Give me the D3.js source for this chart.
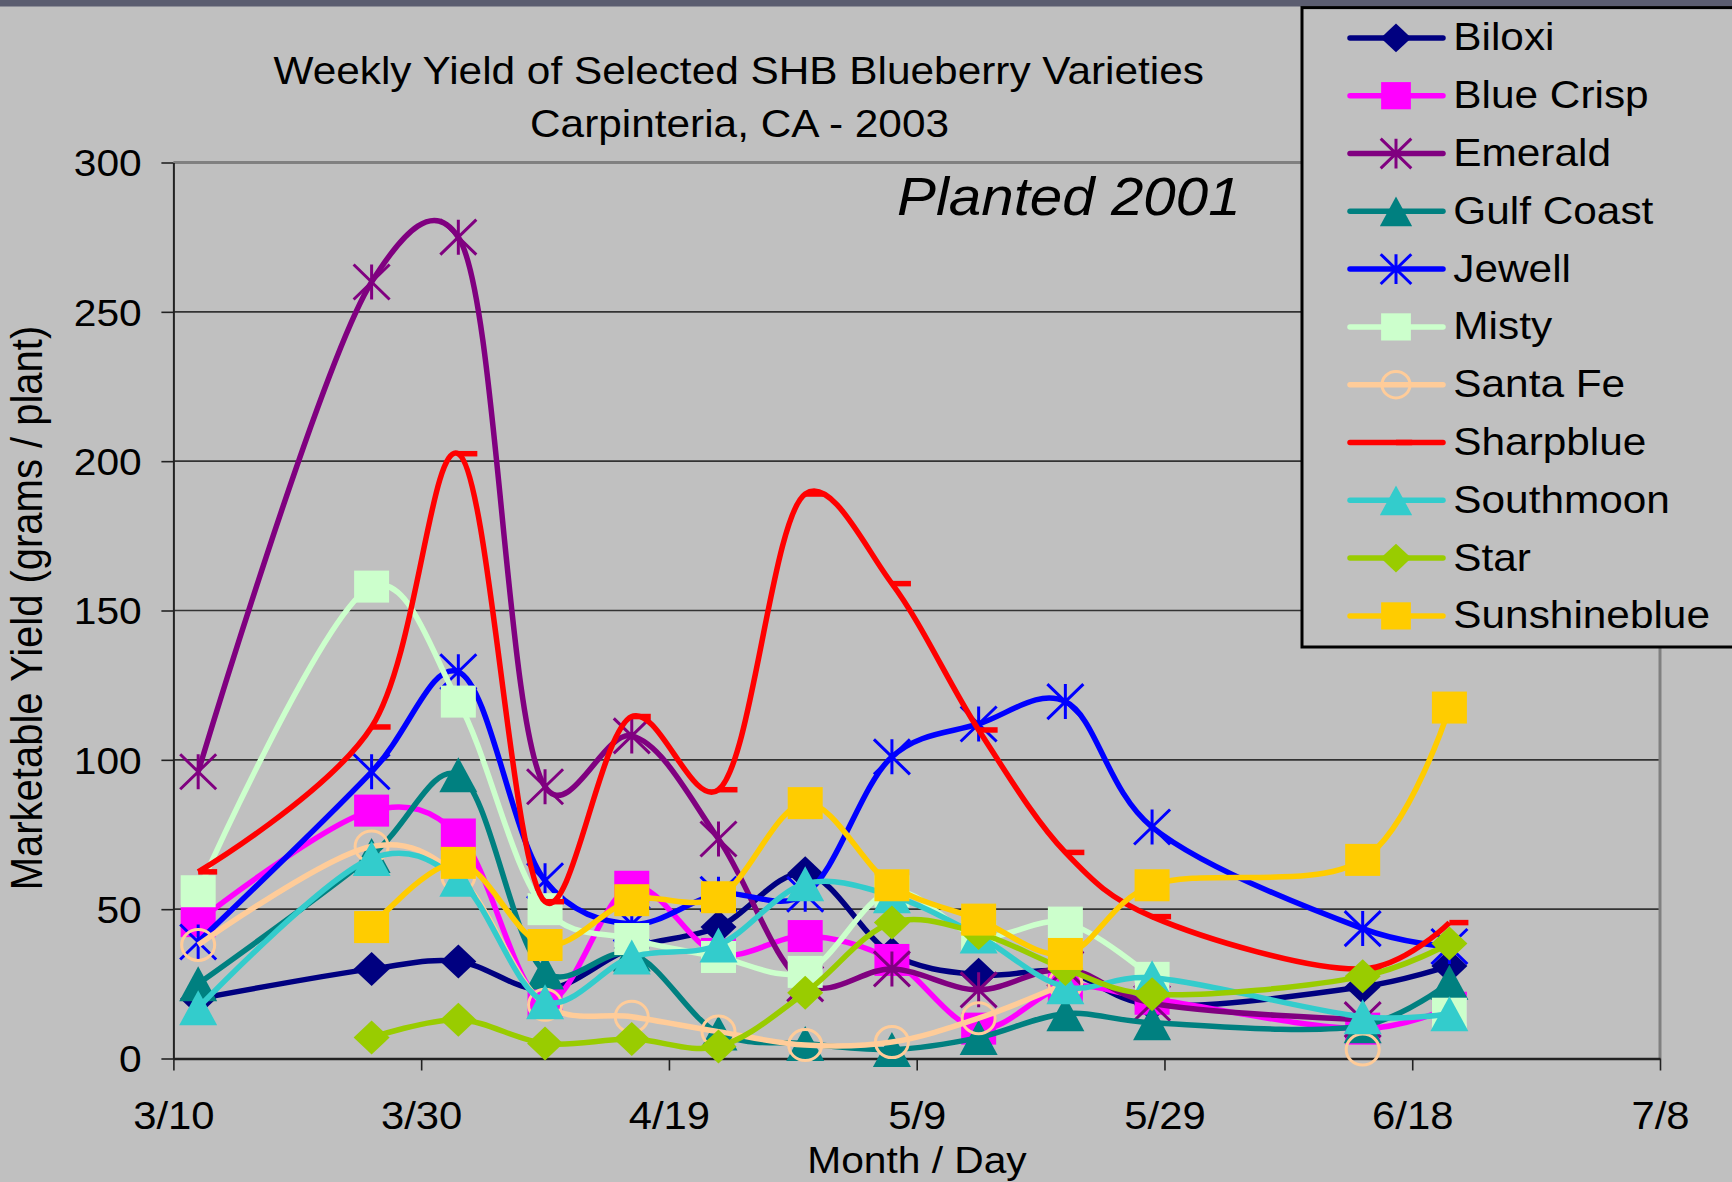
<!DOCTYPE html>
<html><head><meta charset="utf-8">
<script src="https://cdn.jsdelivr.net/npm/d3@7"></script>
<style>html,body{margin:0;padding:0;background:#C0C0C0;} svg{display:block}</style>
</head><body>
<svg id="chart" width="1732" height="1182"></svg>
<script>
// ---------- data ----------
const sampleDates = ["2003-03-12","2003-03-26","2003-04-02","2003-04-09","2003-04-16","2003-04-23","2003-04-30","2003-05-07","2003-05-14","2003-05-21","2003-05-28","2003-06-14","2003-06-21"];
const seriesNames = ["Biloxi","Blue Crisp","Emerald","Gulf Coast","Jewell","Misty","Santa Fe","Sharpblue","Southmoon","Star","Sunshineblue"];
const biloxi       = [20, 30, 32.5, 23, 37, 44, 62, 35, 28, 29, 18, 24, 31];
const blueCrisp    = [46, 83, 75, 19, 57.5, 35, 41, 33, 10, 24, 20, 10, 17];
const emerald      = [96, 260, 275, 91, 108, 73.5, 25, 30, 23, 30, 18.5, 13, null];
const gulfCoast    = [25, 68, 95, 29, 35, 8.5, 5, 3, 7, 15, 12, 11, 25.5];
const jewell       = [39, 96, 129.5, 59.5, 45, 55, 55, 101, 112, 119.5, 77.5, 43.5, 37.5];
const misty        = [56, 158, 119.5, 50, 40, 34, 29, 56, 41, 45.5, 27, null, 15];
const santaFe      = [38, 71, 61, 18, 14, 9, 4.5, 5.5, 13.5, 25, null, 3, null];
const sharpblue    = [62.5, 111, 202.5, 52.5, 114.5, 90, 189, 159, 110, 69, 47.5, 30, 45.5];
const southmoon    = [17, 67, 60, 19, 34, 38, 58.5, 54.5, 41, 24, 27, 14, 15];
const star         = [null, 7, 13, 5, 6.5, 4, 22, 45.5, 42, 30, 21.5, 27.5, 38.5];
const sunshineblue = [null, 44, 65.5, 38, 53, 54, 85.5, 58, 46.5, 35, 58, 66.5, 117.5];
const xTickLabels = ["3/10","3/30","4/19","5/9","5/29","6/18","7/8"];
const yTickValues = [0, 50, 100, 150, 200, 250, 300];
const titleLines = ["Weekly Yield of Selected SHB Blueberry Varieties", "Carpinteria, CA - 2003"];

// ---------- styles ----------
const seriesValues = [biloxi, blueCrisp, emerald, gulfCoast, jewell, misty, santaFe, sharpblue, southmoon, star, sunshineblue];
const colors  = ["#000080","#FF00FF","#800080","#008080","#0000FF","#CCFFCC","#FFCC99","#FF0000","#33CCCC","#99CC00","#FFCC00"];
const markers = ["diamond","square","asterisk","triangle","asterisk","square","circle","dash","triangle","diamond","square"];

const FONT = "'Liberation Sans', Arial, sans-serif";
const STRETCH = 1.1;
const svg = d3.select("#chart");
svg.append("rect").attr("width",1732).attr("height",1182).attr("fill","#C0C0C0");
svg.append("rect").attr("x",0).attr("y",0).attr("width",1732).attr("height",6.5).attr("fill","#5B5D70");

const parseISO = d3.utcParse("%Y-%m-%d");
const parseMD = s => { const [m,d] = s.split("/").map(Number); return new Date(Date.UTC(2003, m-1, d)); };
const X0 = 173.4, X1 = 1660, Y0 = 1058.5, Y1 = 162.5;
const x = d3.scaleUtc().domain([parseMD(xTickLabels[0]), parseMD(xTickLabels[xTickLabels.length-1])]).range([X0, X1]);
const y = d3.scaleLinear().domain([0, 300]).range([Y0, Y1]);

function stext(g, str, tx, ty, size, anchor) {
  return g.append("text")
    .attr("transform", `translate(${tx},${ty}) scale(${STRETCH},1)`)
    .attr("text-anchor", anchor)
    .style("font-family", FONT).style("font-size", size + "px").attr("fill", "#000")
    .text(str);
}

// gridlines
const grid = svg.append("g");
yTickValues.filter(v => v > 0 && v < 300).forEach(v => {
  grid.append("line").attr("x1", X0).attr("x2", X1).attr("y1", y(v)).attr("y2", y(v))
    .attr("stroke", "#333").attr("stroke-width", 1.6);
});
grid.append("line").attr("x1", X0).attr("x2", X1).attr("y1", y(300)).attr("y2", y(300))
  .attr("stroke", "#808080").attr("stroke-width", 3);
grid.append("line").attr("x1", X1).attr("x2", X1).attr("y1", y(300)).attr("y2", Y0)
  .attr("stroke", "#808080").attr("stroke-width", 3);

// axes
const yAxis = svg.append("g").attr("transform", `translate(${X0},0)`)
  .call(d3.axisLeft(y).tickValues(yTickValues).tickSize(12).tickSizeOuter(0));
yAxis.select(".domain").attr("stroke", "#222").attr("stroke-width", 2);
yAxis.selectAll(".tick line").attr("stroke", "#222").attr("stroke-width", 1.6);
yAxis.selectAll(".tick text")
  .attr("x", null).attr("dy", null)
  .attr("transform", `translate(-31.7,13.2) scale(${STRETCH},1)`)
  .style("font-family", FONT).style("font-size", "37px").attr("fill", "#000");

const xAxis = svg.append("g").attr("transform", `translate(0,${Y0})`)
  .call(d3.axisBottom(x).tickValues(xTickLabels.map(parseMD)).tickFormat((d,i) => xTickLabels[i]).tickSize(12).tickSizeOuter(0));
xAxis.select(".domain").attr("stroke", "#222").attr("stroke-width", 2.6);
xAxis.selectAll(".tick line").attr("stroke", "#222").attr("stroke-width", 1.6);
xAxis.selectAll(".tick text")
  .attr("y", null).attr("dy", null)
  .attr("transform", `translate(0,70.5) scale(${STRETCH},1)`)
  .style("font-family", FONT).style("font-size", "38px").attr("fill", "#000");

// marker drawing
function drawMarker(g, type, color, cx, cy, s) {
  if (type === "diamond") {
    const w = 36*s, h = 34*s;
    g.append("polygon").attr("points", `${cx},${cy-h/2} ${cx+w/2},${cy} ${cx},${cy+h/2} ${cx-w/2},${cy}`).attr("fill", color);
  } else if (type === "square") {
    const w = 35*s, h = 32*s;
    g.append("rect").attr("x", cx-w/2).attr("y", cy-h/2).attr("width", w).attr("height", h).attr("fill", color);
  } else if (type === "triangle") {
    const w = 38*s, h = 35*s;
    g.append("polygon").attr("points", `${cx},${cy-h/2} ${cx+w/2},${cy+h/2} ${cx-w/2},${cy+h/2}`).attr("fill", color);
  } else if (type === "asterisk") {
    const w = 36*s, h = 35*s;
    const p = `M${cx},${cy-h/2}L${cx},${cy+h/2}M${cx-w/2},${cy-h/2}L${cx+w/2},${cy+h/2}M${cx+w/2},${cy-h/2}L${cx-w/2},${cy+h/2}`;
    g.append("path").attr("d", p).attr("stroke", color).attr("stroke-width", 3).attr("fill", "none");
  } else if (type === "circle") {
    g.append("ellipse").attr("cx", cx).attr("cy", cy).attr("rx", 16.5*s).attr("ry", 15.5*s)
      .attr("fill", "none").attr("stroke", color).attr("stroke-width", 3);
  } else if (type === "dash") {
    g.append("rect").attr("x", cx).attr("y", cy-2.75).attr("width", 19*s).attr("height", 5.5).attr("fill", color);
  }
}

// series
const line = d3.line()
  .defined(d => d.v !== null)
  .x(d => x(d.date)).y(d => y(d.v))
  .curve(d3.curveCatmullRom.alpha(0.25));

seriesNames.forEach((name, i) => {
  const pts = sampleDates.map((s, j) => ({date: parseISO(s), v: seriesValues[i][j]}));
  const g = svg.append("g").attr("class", "series");
  g.append("path").datum(pts).attr("d", line)
    .attr("fill", "none").attr("stroke", colors[i]).attr("stroke-width", 5.5)
    .attr("stroke-linejoin", "round");
  pts.filter(d => d.v !== null).forEach(d => drawMarker(g, markers[i], colors[i], x(d.date), y(d.v), 1));
});

// titles
stext(svg, titleLines[0], 738.7, 83.5, 38.5, "middle");
stext(svg, titleLines[1], 739.5, 136.5, 38.5, "middle");
stext(svg, "Planted 2001", 897, 215, 53, "start").style("font-style", "italic");
stext(svg, "Month / Day", 917, 1173, 37, "middle");
svg.append("text")
  .attr("transform", `translate(42,608) scale(${STRETCH},1) rotate(-90)`)
  .attr("text-anchor", "middle")
  .style("font-family", FONT).style("font-size", "40px").attr("fill", "#000")
  .text("Marketable Yield (grams / plant)");

// legend
const lg = svg.append("g");
lg.append("rect").attr("x", 1302).attr("y", 7.6).attr("width", 460).attr("height", 639.4)
  .attr("fill", "#C0C0C0").attr("stroke", "#000").attr("stroke-width", 3);
seriesNames.forEach((name, i) => {
  const ly = 37.9 + i * 57.8;
  lg.append("line").attr("x1", 1350).attr("x2", 1443).attr("y1", ly).attr("y2", ly)
    .attr("stroke", colors[i]).attr("stroke-width", 5.5).attr("stroke-linecap", "round");
  drawMarker(lg, markers[i], colors[i], 1396, ly, 0.85);
  stext(lg, name, 1453.3, ly + 12.5, 38.5, "start");
});
</script></body></html>
